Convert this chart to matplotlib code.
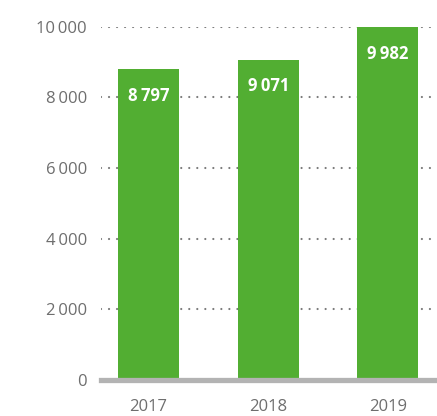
import matplotlib
matplotlib.use("Agg")
import matplotlib.pyplot as plt
import numpy as np

plt.rcParams['font.family'] = ['Open Sans', 'DejaVu Sans']

years = ['2017', '2018', '2019']
values = [8797, 9071, 9982]
yticks = [0, 2000, 4000, 6000, 8000, 10000]

green = '#52ae32'
gray_txt = '#6e6e6e'


def fmt(v):
    # thousands separated by a thin space
    return '{:,}'.format(v).replace(',', '\u2009')


fig = plt.figure(figsize=(4.37, 4.16), dpi=100)
ax = fig.add_axes([0.231, 0.0865, 0.769, 0.849])

x = np.arange(len(years))
bars = ax.bar(x, values, width=0.51, color=green, zorder=2)

for b, v in zip(bars, values):
    ax.annotate(fmt(v), (b.get_x() + b.get_width() / 2, v), xytext=(0, -19),
                textcoords='offset points', ha='center', va='center',
                color='white', fontsize=12, fontweight='bold')

ax.set_xlim(-0.397, 2.41)
ax.set_ylim(0, 10000)
ax.set_yticks(yticks)
ax.set_yticklabels([fmt(t) for t in yticks])
ax.set_xticks(x)
ax.set_xticklabels(years)
ax.tick_params(axis='both', length=0, labelsize=12, labelcolor=gray_txt)
ax.tick_params(axis='y', pad=10)
ax.tick_params(axis='x', pad=14)

ax.grid(axis='y', color='#7a7a7a', linewidth=1.6, linestyle=(0, (0.01, 3.6)),
        dash_capstyle='round', zorder=1)
ax.set_axisbelow(True)
for s in ax.spines.values():
    s.set_visible(False)

ax.axhline(0, color='#b3b3b3', linewidth=3.8, zorder=3, clip_on=False)

fig.savefig('out.png', dpi=100)
